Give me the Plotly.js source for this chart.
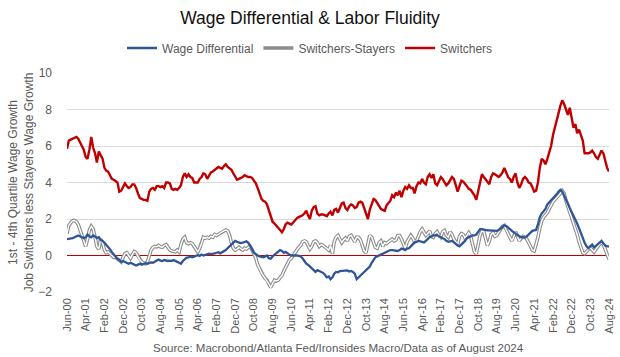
<!DOCTYPE html>
<html><head><meta charset="utf-8">
<script src="https://cdn.plot.ly/plotly-3.0.1.min.js"></script>
<style>html,body{margin:0;padding:0;background:#fff}#chart{width:620px;height:357px}</style>
</head><body><div id="chart"></div>
<script>
// Monthly series, Jun-2000 .. Aug-2024 (one row per calendar year)
const startYear = 2000, startMonth = 6;

const wageDifferential = [
  0.9, 0.92, 0.9, 0.95, 1.0, 1.05, 1.1,
  1.05, 1.0, 0.95, 1.0, 1.15, 1.05, 1.0, 1.1, 1.05, 0.95, 1.0, 0.85,
  0.8, 0.7, 0.6, 0.45, 0.35, 0.2, 0.05, -0.1, -0.2, -0.25, -0.35, -0.3,
  -0.35, -0.4, -0.45, -0.4, -0.45, -0.5, -0.55, -0.5, -0.45, -0.5, -0.45, -0.42,
  -0.45, -0.4, -0.38, -0.4, -0.35, -0.3, -0.22, -0.28, -0.3, -0.25, -0.28, -0.3,
  -0.28, -0.3, -0.25, -0.32, -0.35, -0.4, -0.45, -0.3, -0.2, -0.12, -0.1, -0.05,
  -0.1, -0.05, 0.0, 0.02, -0.02, 0.05, 0.0, 0.03, 0.05, 0.1, 0.08, 0.12,
  0.12, 0.15, 0.18, 0.12, 0.18, 0.2, 0.3, 0.4, 0.5, 0.65, 0.75, 0.8,
  0.75, 0.72, 0.68, 0.7, 0.75, 0.78, 0.7, 0.55, 0.35, 0.15, 0.05, 0.0,
  -0.05, -0.1, -0.1, -0.05, 0.0, -0.15, -0.18, -0.05, 0.05, 0.15, 0.2, 0.3,
  0.25, 0.15, 0.2, 0.1, 0.05, 0.0, 0.02, 0.0, 0.0, -0.02, -0.05, -0.15,
  -0.3, -0.45, -0.5, -0.6, -0.7, -0.75, -0.9, -0.8, -0.85, -0.9, -0.95, -1.05,
  -1.2, -1.15, -1.3, -1.2, -1.0, -0.9, -0.92, -0.85, -0.85, -0.82, -0.85, -0.82,
  -0.88, -0.85, -0.9, -1.0, -1.3, -1.2, -1.1, -1.0, -0.95, -0.8, -0.72, -0.6,
  -0.4, -0.2, -0.1, -0.05, 0.0, 0.05, 0.1, 0.15, 0.2, 0.25, 0.3, 0.3,
  0.28, 0.3, 0.25, 0.3, 0.38, 0.35, 0.3, 0.38, 0.4, 0.5, 0.6, 0.72,
  0.75, 0.8, 0.78, 0.75, 0.72, 0.8, 0.92, 1.0, 1.05, 1.1, 1.1, 1.12,
  1.05, 1.0, 0.95, 0.9, 0.8, 0.75, 0.78, 0.8, 0.72, 0.62, 0.55, 0.5,
  0.6, 0.7, 0.8, 0.95, 1.0, 1.05, 1.1, 1.1, 1.15, 1.3, 1.45, 1.45,
  1.42, 1.4, 1.38, 1.38, 1.38, 1.38, 1.35, 1.35, 1.4, 1.5, 1.6, 1.65,
  1.62, 1.55, 1.45, 1.35, 1.25, 1.2, 1.12, 1.05, 1.0, 1.0, 0.98, 1.05,
  1.15, 1.25, 1.35, 1.38, 1.4, 1.7, 2.1, 2.3, 2.45, 2.55, 2.8, 2.9,
  3.0, 3.1, 3.2, 3.35, 3.5, 3.6, 3.5, 3.3, 3.1, 2.85, 2.6, 2.4,
  2.15, 1.95, 1.75, 1.5, 1.2, 0.95, 0.7, 0.5, 0.4, 0.5, 0.6, 0.45,
  0.55, 0.6, 0.7, 0.78, 0.65, 0.55, 0.5, 0.5
];

const switchersStayers = [
  1.2, 1.65, 1.8, 1.9, 1.92, 1.85, 1.7,
  1.4, 1.1, 0.8, 0.5, 0.9, 1.4, 1.6, 1.45, 1.0, 0.5, 0.35, 0.9,
  0.7, 0.3, 0.15, 0.2, 0.1, 0.0, -0.1, -0.1, -0.2, -0.3, -0.35, -0.1,
  0.1, 0.15, 0.0, -0.15, 0.05, 0.22, 0.15, -0.05, -0.25, -0.35, -0.4, -0.45,
  -0.35, 0.0, 0.3, 0.45, 0.5, 0.48, 0.55, 0.48, 0.45, 0.55, 0.6, 0.45,
  0.3, 0.25, 0.22, 0.2, 0.3, 0.2, 0.6, 0.9, 1.0, 0.7, 0.65, 0.7,
  0.65, 0.5, 0.3, 0.2, 0.4, 0.65, 1.0, 0.95, 1.0, 0.95, 1.05, 1.0,
  1.15, 1.1, 1.15, 1.25, 1.3, 1.35, 1.4, 1.35, 1.1, 0.7, 0.4, 0.3,
  0.35, 0.45, 0.35, 0.3, 0.4, 0.35, 0.45, 0.5, 0.3, 0.1, -0.15, -0.5,
  -0.75, -0.95, -1.1, -1.25, -1.35, -1.55, -1.75, -1.55, -1.35, -1.4, -1.35, -1.2,
  -1.1, -0.85, -0.65, -0.4, -0.25, -0.15, 0.0, 0.15, 0.35, 0.45, 0.55, 0.75,
  0.8, 0.75, 0.55, 0.35, 0.5, 0.75, 0.8, 0.7, 0.5, 0.6, 0.55, 0.45,
  0.35, 0.3, 0.55, 0.1, 0.75, 1.0, 1.1, 0.9, 0.7, 0.85, 0.95, 0.8,
  1.05, 1.1, 0.9, 0.75, 1.0, 1.0, 0.85, 0.5, 0.25, 0.15, 0.65, 1.1,
  1.0, 0.75, 0.45, 0.4, 0.7, 0.8, 0.5, 0.7, 0.65, 0.75, 0.85, 0.9,
  0.8, 0.85, 1.1, 1.1, 0.9, 0.6, 0.4, 0.75, 0.95, 1.1, 0.95, 0.75,
  0.8, 1.1, 1.3, 1.45, 1.3, 1.1, 1.2, 1.35, 1.05, 1.0, 1.2, 1.3,
  1.1, 1.0, 1.3, 1.37, 1.1, 1.0, 1.3, 1.15, 0.9, 0.75, 0.6, 1.05,
  1.2, 1.15, 0.95, 1.1, 1.25, 1.05, 0.6, 0.2, 0.1, 0.6, 1.1, 1.35,
  1.3, 0.9, 0.55, 0.8, 1.15, 1.25, 1.05, 1.1, 1.3, 1.45, 1.6, 1.65,
  1.4, 1.2, 1.0, 0.8, 1.0, 1.3, 1.05, 0.8, 0.95, 1.05, 1.0, 0.9,
  0.7, 0.45, 0.3, 0.25, 0.6, 1.0, 1.5, 1.9, 2.1, 2.2, 2.35, 2.55,
  2.8, 2.95, 3.05, 3.15, 3.3, 3.4, 3.55, 3.4, 3.0, 2.7, 2.4, 2.1,
  1.8, 1.5, 1.15, 0.75, 0.45, 0.15, 0.1, 0.2, 0.35, 0.45, 0.3, 0.2,
  0.35, 0.5, 0.6, 0.75, 0.6, 0.3, 0.0, -0.2
];

const switchers = [
  5.85, 6.3, 6.35, 6.4, 6.45, 6.5, 6.4,
  6.2, 6.0, 5.8, 5.4, 5.3, 5.8, 6.5, 5.9, 5.6, 5.1, 5.7, 5.5,
  5.3, 4.8, 4.65, 4.6, 4.4, 4.2, 4.15, 4.05, 4.0, 3.5, 3.55, 3.75,
  3.95, 3.8, 3.7, 3.75, 3.9, 3.9, 3.7, 3.4, 3.15, 3.1, 3.05, 3.05,
  3.0, 3.5, 3.65, 3.7, 3.6, 3.8, 3.8, 3.75, 3.8, 3.7, 4.0, 4.0,
  3.95, 3.65, 3.6, 3.65, 3.6, 3.7, 3.85, 4.3, 4.5, 4.3, 4.45, 4.3,
  4.25, 4.0, 4.0, 4.0, 4.2, 4.3, 4.5, 4.45, 4.2, 4.4, 4.55, 4.6,
  4.7, 4.75, 4.85, 4.8, 4.75, 4.9, 5.0, 4.85, 4.75, 4.7, 4.5, 4.3,
  4.15, 4.2, 4.25, 4.3, 4.4, 4.35, 4.3, 4.3, 4.25, 4.1, 3.95, 3.7,
  3.4, 3.1, 3.0, 2.95, 2.8, 2.5, 2.1, 1.85, 1.75, 1.65, 1.5, 1.4,
  1.28, 1.45, 1.7, 1.8, 1.75, 1.7, 1.8, 1.95, 2.05, 2.1, 2.15, 2.2,
  2.3, 2.45, 2.2, 2.0, 2.45, 2.65, 2.7, 2.3, 2.2, 2.25, 2.25, 2.2,
  2.15, 2.3, 2.4, 2.2, 2.5, 2.55, 2.35, 2.6, 2.85, 2.9, 2.6, 2.5,
  2.7, 2.8, 2.75, 2.6, 2.65, 2.9, 2.95, 2.9, 2.6, 2.3, 2.0, 2.5,
  2.8, 3.1, 3.05, 2.9, 2.7, 2.55, 2.5, 2.45, 2.75, 2.9, 3.0, 3.3,
  3.2, 3.45, 3.3, 3.55, 3.2, 3.55, 3.75, 3.65, 3.85, 3.7, 3.7, 3.4,
  3.8, 4.0, 3.95, 4.2, 4.0, 3.9, 4.3, 4.45, 4.25, 4.45, 3.95, 3.85,
  4.1, 4.3, 4.2, 4.05, 3.85, 3.95, 4.1, 4.3, 4.2, 3.85, 3.5, 3.8,
  4.1, 4.05, 3.95, 3.8, 3.65, 3.6, 3.45, 3.3, 3.05, 3.5, 4.0, 4.45,
  4.3, 4.15, 4.05, 3.9, 4.3, 4.5, 4.45, 4.35, 4.3, 4.4, 4.55, 4.8,
  4.5, 4.3, 4.2, 4.0, 4.3, 4.5, 4.0, 3.7, 3.9, 4.2, 4.3, 4.2,
  4.0, 3.95, 3.75, 3.5, 3.55, 4.0, 4.8, 5.3, 5.2, 5.0, 5.3, 5.6,
  6.0, 6.6, 7.0, 7.4, 7.8, 8.2, 8.5, 8.3, 8.0, 7.7, 8.1, 7.6,
  7.0, 7.2, 6.7, 6.9, 6.6, 6.3, 5.6, 5.6, 5.6, 5.65, 5.75, 5.6,
  5.4, 5.3, 5.5, 5.75, 5.6, 5.2, 4.8, 4.6
];

const tickLabels = ["Jun-00","Apr-01","Feb-02","Dec-02","Oct-03","Aug-04","Jun-05","Apr-06","Feb-07","Dec-07",
  "Oct-08","Aug-09","Jun-10","Apr-11","Feb-12","Dec-12","Oct-13","Aug-14","Jun-15","Apr-16",
  "Feb-17","Dec-17","Oct-18","Aug-19","Jun-20","Apr-21","Feb-22","Dec-22","Oct-23","Aug-24"];
const yTicks = [-2, 0, 2, 4, 6, 8, 10];

const dates = switchers.map((_, i) => {
  const t = (startMonth - 1) + i;
  const y = startYear + Math.floor(t / 12);
  const mo = (t % 12) + 1;
  return y + '-' + String(mo).padStart(2, '0') + '-01';
});
const tickVals = tickLabels.map((_, k) => dates[k * 10]);

const FONT = 'Liberation Sans, Arial, sans-serif';
const traces = [
  {x: dates, y: switchersStayers, type: 'scatter', mode: 'lines', name: 'Switchers-Stayers',
   line: {color: '#8c8c8c', width: 3.6}, legendrank: 2, hoverinfo: 'skip'},
  {x: dates, y: switchersStayers, type: 'scatter', mode: 'lines', name: 'Switchers-Stayers',
   line: {color: '#ffffff', width: 1.4}, showlegend: false, hoverinfo: 'skip'},
  {x: dates, y: wageDifferential, type: 'scatter', mode: 'lines', name: 'Wage Differential',
   line: {color: '#2f5597', width: 2.3}, legendrank: 1},
  {x: dates, y: switchers, type: 'scatter', mode: 'lines', name: 'Switchers',
   line: {color: '#c00000', width: 2.4}, legendrank: 3}
];

const layout = {
  width: 620, height: 357,
  margin: {l: 67, r: 11, t: 73, b: 65, pad: 0},
  paper_bgcolor: '#ffffff', plot_bgcolor: '#ffffff',
  font: {family: FONT, color: '#595959', size: 12},
  title: {text: 'Wage Differential & Labor Fluidity', x: 0.5, xref: 'container', xanchor: 'center',
          y: 1 - 18 / 357, yref: 'container', yanchor: 'middle',
          font: {family: FONT, size: 17.5, color: '#111111'}},
  showlegend: true,
  legend: {orientation: 'h', xref: 'container', x: 0.5, xanchor: 'center',
           yref: 'container', y: 1 - 48 / 357, yanchor: 'middle',
           font: {family: FONT, size: 12, color: '#595959'}, bgcolor: 'rgba(0,0,0,0)', traceorder: 'normal'},
  xaxis: {type: 'date', range: [dates[0], dates[dates.length - 1]],
          tickmode: 'array', tickvals: tickVals, ticktext: tickLabels, tickangle: -90,
          tickfont: {family: FONT, size: 11, color: '#595959'},
          showgrid: false, zeroline: false, showline: false, ticks: '', ticklabelstandoff: 3,
          fixedrange: true},
  yaxis: {range: [-2, 10], tickmode: 'array', tickvals: yTicks,
          tickfont: {family: FONT, size: 12, color: '#595959'},
          showgrid: true, gridcolor: '#d9d9d9', gridwidth: 1,
          zeroline: true, zerolinecolor: '#c00000', zerolinewidth: 1.2,
          showline: false, ticks: '', ticklabelstandoff: 14,
          title: {text: '1st - 4th Quartile Wage Growth<br>Job Switchers less Stayers Wage Growth',
                  font: {family: FONT, size: 12, color: '#595959'}, standoff: 2},
          fixedrange: true},
  annotations: [{text: 'Source: Macrobond/Atlanta Fed/Ironsides Macro/Data as of August 2024',
                 xref: 'paper', yref: 'paper', x: 0.5, y: (291.5 - 347) / 218.8,
                 xanchor: 'center', yanchor: 'middle', showarrow: false,
                 font: {family: FONT, size: 11.5, color: '#595959'}}]
};

Plotly.newPlot('chart', traces, layout, {displayModeBar: false, staticPlot: true});
</script>
</body></html>
